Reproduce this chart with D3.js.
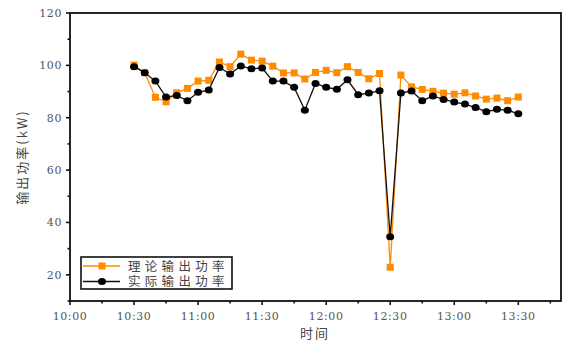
<!DOCTYPE html>
<html>
<head>
<meta charset="utf-8">
<script src="https://cdn.jsdelivr.net/npm/d3@7"></script>
<style>
  body { margin: 0; background: #fff; }
  .num { font-family: "DejaVu Serif", serif; font-size: 11px; fill: #555; letter-spacing: 0.6px; }
  .cjk { font-family: "Noto Sans CJK SC", sans-serif; fill: #444; }
</style>
</head>
<body>
<div id="viz"></div>
<script>
// sample times (every 5 minutes)
var times = ["10:30","10:35","10:40","10:45","10:50","10:55","11:00","11:05","11:10","11:15",
             "11:20","11:25","11:30","11:35","11:40","11:45","11:50","11:55","12:00","12:05",
             "12:10","12:15","12:20","12:25","12:30","12:35","12:40","12:45","12:50","12:55",
             "13:00","13:05","13:10","13:15","13:20","13:25","13:30"]

// theoretical output power (kW)
var theory = [100.1, 97.2, 87.8, 86.1, 89.5, 91.2, 94.0, 94.3, 101.3, 99.5,
              104.3, 102.0, 101.6, 99.7, 97.1, 97.1, 94.8, 97.3, 98.1, 97.2,
              99.5, 97.3, 94.9, 96.9, 22.9, 96.3, 91.8, 90.8, 90.1, 89.4,
              89.0, 89.5, 88.3, 87.1, 87.5, 86.5, 87.9]

// actual output power (kW)
var actual = [99.5, 97.2, 94.0, 87.9, 88.5, 86.5, 89.7, 90.6, 99.2, 96.7,
              99.8, 98.7, 99.0, 94.0, 94.0, 91.6, 82.9, 93.1, 91.6, 90.9,
              94.5, 88.8, 89.4, 90.3, 34.5, 89.4, 90.2, 86.5, 88.3, 87.0,
              86.0, 85.2, 83.9, 82.3, 83.2, 82.9, 81.5]

var xTickLabels = ["10:00","10:30","11:00","11:30","12:00","12:30","13:00","13:30"]
var yTicks = [20, 40, 60, 80, 100, 120]
var seriesNames = ["理论输出功率", "实际输出功率"]

var w = 572, h = 341
var pL = 70, pR = 561, pT = 13, pB = 301

var toMin = s => { var p = s.split(":"); return (+p[0]) * 60 + (+p[1]) }

var x = d3.scaleLinear().domain([600, 830]).range([pL, pR])
var y = d3.scaleLinear().domain([10, 120]).range([pB, pT])

var svg = d3.select("#viz").append("svg").attr("width", w).attr("height", h)

// frame
svg.append("rect")
  .attr("x", pL).attr("y", pT)
  .attr("width", pR - pL).attr("height", pB - pT)
  .attr("fill", "none").attr("stroke", "#111").attr("stroke-width", 1.8)

// x axis
var xAxis = svg.append("g").attr("transform", `translate(0,${pB})`)
xAxis.selectAll("line").data(d3.range(600, 831, 15)).enter()
  .append("line")
  .attr("x1", d => x(d)).attr("x2", d => x(d))
  .attr("y1", 0).attr("y2", d => d % 30 === 0 ? 4 : 2.5)
  .attr("stroke", "#111").attr("stroke-width", 1.6)
xAxis.selectAll("text").data(xTickLabels).enter()
  .append("text").attr("class", "num")
  .attr("x", d => x(toMin(d))).attr("y", 19)
  .attr("text-anchor", "middle").text(d => d)

// y axis
var yAxis = svg.append("g").attr("transform", `translate(${pL},0)`)
yAxis.selectAll("line").data(d3.range(10, 121, 10)).enter()
  .append("line")
  .attr("y1", d => y(d)).attr("y2", d => y(d))
  .attr("x1", 0).attr("x2", d => d % 20 === 0 ? -4 : -2.5)
  .attr("stroke", "#111").attr("stroke-width", 1.6)
yAxis.selectAll("text").data(yTicks).enter()
  .append("text").attr("class", "num")
  .attr("x", -8).attr("y", d => y(d) + 4)
  .attr("text-anchor", "end").text(d => d)

// axis titles
svg.append("text").attr("class", "cjk")
  .attr("x", 315).attr("y", 338).attr("text-anchor", "middle")
  .attr("font-size", 13).attr("letter-spacing", 2).text("时间")
svg.append("text").attr("class", "cjk")
  .attr("transform", "translate(27,157) rotate(-90)")
  .attr("text-anchor", "middle").attr("font-size", 13).attr("letter-spacing", 2)
  .text("输出功率(kW)")

var orange = "#ff8c00"
var line = d3.line().x((d, i) => x(toMin(times[i]))).y(d => y(d))

// theoretical series
svg.append("path").datum(theory)
  .attr("d", line).attr("fill", "none").attr("stroke", orange).attr("stroke-width", 1.3)
svg.selectAll(".sq").data(theory).enter()
  .append("rect").attr("class", "sq")
  .attr("x", (d, i) => x(toMin(times[i])) - 3.5).attr("y", d => y(d) - 3.5)
  .attr("width", 7).attr("height", 7).attr("fill", orange)

// actual series
svg.append("path").datum(actual)
  .attr("d", line).attr("fill", "none").attr("stroke", "#111").attr("stroke-width", 1.3)
svg.selectAll(".dot").data(actual).enter()
  .append("ellipse").attr("class", "dot")
  .attr("cx", (d, i) => x(toMin(times[i]))).attr("cy", d => y(d))
  .attr("rx", 4).attr("ry", 3.5).attr("fill", "#000")

// legend
var lg = svg.append("g")
lg.append("rect").attr("x", 81).attr("y", 257).attr("width", 151).attr("height", 32)
  .attr("fill", "#fff").attr("stroke", "#111").attr("stroke-width", 1.6)
var rows = [{ name: seriesNames[0], color: orange, y: 266 }, { name: seriesNames[1], color: "#111", y: 281.5 }]
rows.forEach((r, i) => {
  lg.append("line").attr("x1", 83).attr("x2", 120).attr("y1", r.y).attr("y2", r.y)
    .attr("stroke", r.color).attr("stroke-width", 1.3)
  if (i === 0) {
    lg.append("rect").attr("x", 98.5).attr("y", r.y - 3.5).attr("width", 7).attr("height", 7).attr("fill", orange)
  } else {
    lg.append("ellipse").attr("cx", 102).attr("cy", r.y).attr("rx", 4).attr("ry", 3.5).attr("fill", "#000")
  }
  lg.append("text").attr("class", "cjk")
    .attr("x", 128).attr("y", r.y + 4.5)
    .attr("font-size", 12.5).attr("letter-spacing", 4.3)
    .text(r.name)
})
</script>
</body>
</html>
